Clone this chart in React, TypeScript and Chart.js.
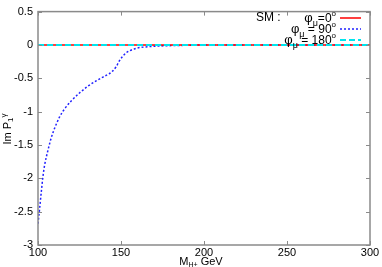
import React, { useEffect, useRef } from "react";
import { Chart, registerables } from "chart.js";

Chart.register(...registerables);

const massX = [100, 101, 102, 103, 104, 106, 108, 110, 113, 116, 120, 125, 130, 135, 140, 143, 145, 147, 149, 151, 153, 155, 158, 161, 165, 170, 180, 190, 200, 250, 300];
const phi90Y = [-2.68, -2.45, -2.2, -1.97, -1.8, -1.58, -1.39, -1.25, -1.08, -0.96, -0.84, -0.72, -0.62, -0.54, -0.47, -0.43, -0.39, -0.33, -0.24, -0.17, -0.12, -0.09, -0.06, -0.04, -0.03, -0.02, -0.01, -0.005, 0, 0, 0];
const zeroX = [100, 300];
const phi0Y = [0, 0];
const phi180Y = [0, 0];
const xTicks = [100, 150, 200, 250, 300];
const yTicks = [0.5, 0, -0.5, -1, -1.5, -2, -2.5, -3];

const FONT = "'Liberation Sans', Arial, sans-serif";

type Part = { t: string; size: number; dy?: number };

function measure(ctx: CanvasRenderingContext2D, parts: Part[]) {
  let w = 0;
  for (const p of parts) {
    ctx.font = `${p.size}px ${FONT}`;
    w += ctx.measureText(p.t).width;
  }
  return w;
}

function drawParts(ctx: CanvasRenderingContext2D, parts: Part[], x: number, y: number) {
  let cx = x;
  ctx.textBaseline = "alphabetic";
  ctx.textAlign = "left";
  for (const p of parts) {
    ctx.font = `${p.size}px ${FONT}`;
    ctx.fillText(p.t, cx, y + (p.dy || 0));
    cx += ctx.measureText(p.t).width;
  }
}

const decorPlugin = {
  id: "decor",
  afterDatasetsDraw(chart: any) {
    const ctx: CanvasRenderingContext2D = chart.ctx;
    const { left, right, top, bottom } = chart.chartArea;
    const xs = chart.scales.x;
    const ys = chart.scales.y;
    ctx.save();
    // frame
    ctx.strokeStyle = "#8a8a8a";
    ctx.lineWidth = 1.5;
    ctx.strokeRect(left, top, right - left, bottom - top);
    // inward ticks
    ctx.lineWidth = 1;
    ctx.beginPath();
    for (const v of xTicks) {
      const px = Math.round(xs.getPixelForValue(v)) + 0.5;
      ctx.moveTo(px, bottom);
      ctx.lineTo(px, bottom - 4);
      ctx.moveTo(px, top);
      ctx.lineTo(px, top + 4);
    }
    for (const v of yTicks) {
      const py = Math.round(ys.getPixelForValue(v)) + 0.5;
      ctx.moveTo(left, py);
      ctx.lineTo(left + 4, py);
      ctx.moveTo(right, py);
      ctx.lineTo(right - 4, py);
    }
    ctx.stroke();

    ctx.fillStyle = "#000";
    // legend
    ctx.font = `12px ${FONT}`;
    ctx.fillText("SM :", 256, 21);
    const rows: { parts: Part[]; y: number; color: string; dash: number[]; w: number }[] = [
      { parts: [{ t: "φ", size: 13 }, { t: "μ", size: 9, dy: 4 }, { t: "=0", size: 12 }, { t: "o", size: 8, dy: -6 }], y: 22, color: "#ff0000", dash: [], w: 1.5 },
      { parts: [{ t: "φ", size: 13 }, { t: "μ", size: 9, dy: 4 }, { t: " = 90", size: 12 }, { t: "o", size: 8, dy: -6 }], y: 33, color: "#2020ff", dash: [2, 2], w: 1.5 },
      { parts: [{ t: "φ", size: 13 }, { t: "μ", size: 9, dy: 4 }, { t: " = 180", size: 12 }, { t: "o", size: 8, dy: -6 }], y: 44, color: "#00e5ee", dash: [6, 3], w: 2 },
    ];
    for (const r of rows) {
      const w = measure(ctx, r.parts);
      drawParts(ctx, r.parts, 336 - w, r.y);
      ctx.beginPath();
      ctx.strokeStyle = r.color;
      ctx.lineWidth = r.w;
      ctx.setLineDash(r.dash);
      ctx.moveTo(340, r.y - 4);
      ctx.lineTo(361, r.y - 4);
      ctx.stroke();
      ctx.setLineDash([]);
    }

    // x title
    const xt: Part[] = [{ t: "M", size: 11 }, { t: "H+", size: 7, dy: 2 }, { t: " GeV", size: 11 }];
    const xw = measure(ctx, xt);
    drawParts(ctx, xt, 201 - xw / 2, 265);

    // y title
    ctx.save();
    ctx.translate(11, 129);
    ctx.rotate(-Math.PI / 2);
    const yt: Part[] = [{ t: "Im P", size: 11 }, { t: "1", size: 8, dy: 2 }, { t: "γ", size: 8, dy: -5 }];
    const yw = measure(ctx, yt);
    drawParts(ctx, yt, -yw / 2, 0);
    ctx.restore();
    ctx.restore();
  },
};

export default function App() {
  const ref = useRef<HTMLCanvasElement>(null);
  useEffect(() => {
    document.body.style.margin = "0";
    const canvas = ref.current!;
    const chart = new Chart(canvas, {
      type: "line",
      data: {
        datasets: [
          {
            label: "phi180",
            data: zeroX.map((x, i) => ({ x, y: phi180Y[i] })),
            borderColor: "#00e5ee",
            borderWidth: 2,
            borderDash: [6, 3],
            pointRadius: 0,
            order: 0,
          },
          {
            label: "phi0",
            data: zeroX.map((x, i) => ({ x, y: phi0Y[i] })),
            borderColor: "#ff0000",
            borderWidth: 1.5,
            pointRadius: 0,
            order: 1,
          },
          {
            label: "phi90",
            data: massX.map((x, i) => ({ x, y: phi90Y[i] })),
            borderColor: "#2020ff",
            borderWidth: 1.5,
            borderDash: [2, 2],
            pointRadius: 0,
            cubicInterpolationMode: "monotone",
            order: 2,
          },
        ],
      },
      options: {
        animation: false,
        responsive: false,
        layout: { padding: { left: 8, right: 12, top: 9, bottom: 0 } },
        plugins: { legend: { display: false }, tooltip: { enabled: false } },
        scales: {
          x: {
            type: "linear",
            min: 100,
            max: 300,
            afterBuildTicks: (s: any) => { s.ticks = xTicks.map((v) => ({ value: v })); },
            afterFit: (s: any) => { s.height = 22; },
            ticks: { color: "#000", font: { family: FONT, size: 11 }, padding: 1, maxRotation: 0, callback: (v: any) => String(v) },
            grid: { display: false, drawTicks: false },
            border: { display: false },
          },
          y: {
            min: -3,
            max: 0.5,
            afterBuildTicks: (s: any) => { s.ticks = yTicks.map((v) => ({ value: v })); },
            afterFit: (s: any) => { s.width = 30; },
            ticks: { color: "#000", font: { family: FONT, size: 11 }, padding: 5, callback: (v: any) => String(v) },
            grid: { display: false, drawTicks: false },
            border: { display: false },
          },
        },
      },
      plugins: [decorPlugin],
    } as any);
    return () => chart.destroy();
  }, []);
  return <canvas ref={ref} width={382} height={267} style={{ display: "block" }} />;
}
